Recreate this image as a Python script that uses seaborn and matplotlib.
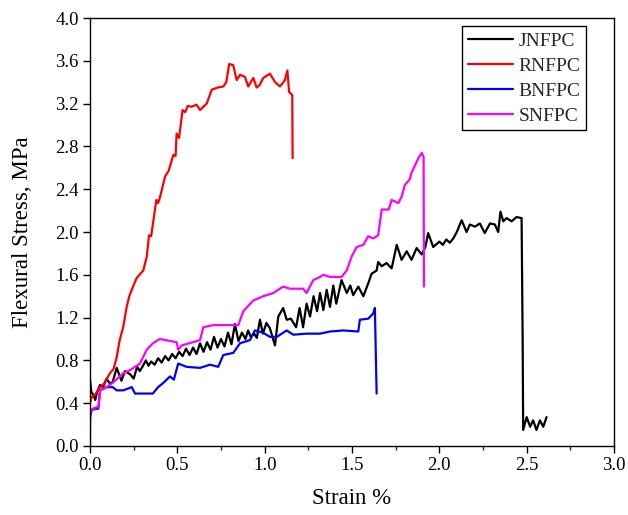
import numpy as np
import pandas as pd
import matplotlib
matplotlib.use("Agg")
import matplotlib.pyplot as plt
import seaborn as sns
from matplotlib.ticker import MultipleLocator

series_names = ["JNFPC", "RNFPC", "BNFPC", "SNFPC"]
series_colors = ["black", "red", "blue", "magenta"]

j_x = [0.0, 0.008, 0.015, 0.03, 0.04, 0.057, 0.075, 0.095, 0.115, 0.13, 0.153, 0.18, 0.2, 0.23,
       0.25, 0.27, 0.285, 0.30, 0.32, 0.335, 0.35, 0.37, 0.39, 0.41, 0.43, 0.45, 0.47, 0.49,
       0.51, 0.53, 0.55, 0.57, 0.59, 0.61, 0.63, 0.65, 0.67, 0.69, 0.71, 0.73, 0.75, 0.77,
       0.79, 0.81, 0.83, 0.85, 0.87, 0.89, 0.905, 0.92, 0.94, 0.955, 0.973, 0.99, 1.01, 1.03,
       1.059, 1.078, 1.106, 1.126, 1.15, 1.18, 1.2, 1.22, 1.24, 1.26, 1.28, 1.30, 1.317, 1.336,
       1.355, 1.374, 1.393, 1.41, 1.44, 1.47, 1.49, 1.507, 1.536, 1.565, 1.593, 1.612, 1.641,
       1.65, 1.67, 1.698, 1.727, 1.756, 1.784, 1.813, 1.841, 1.87, 1.899, 1.92, 1.936, 1.965,
       2.0, 2.02, 2.04, 2.06, 2.08, 2.1, 2.128, 2.156, 2.175, 2.204, 2.232, 2.26, 2.29, 2.318,
       2.337, 2.35, 2.366, 2.385, 2.414, 2.442, 2.471, 2.477, 2.48, 2.50, 2.52, 2.537, 2.556,
       2.576, 2.595, 2.614]
j_y = [0.62, 0.50, 0.49, 0.43, 0.50, 0.57, 0.55, 0.63, 0.58, 0.60, 0.73, 0.61, 0.70, 0.67,
       0.63, 0.74, 0.70, 0.74, 0.80, 0.75, 0.79, 0.76, 0.82, 0.78, 0.84, 0.80, 0.86, 0.82,
       0.88, 0.84, 0.91, 0.85, 0.92, 0.86, 0.96, 0.88, 0.97, 0.90, 1.02, 0.92, 1.00, 0.93,
       1.06, 0.95, 1.14, 0.98, 1.06, 1.00, 1.08, 1.02, 1.05, 1.01, 1.18, 1.05, 1.15, 1.10,
       0.94, 1.21, 1.29, 1.18, 1.19, 1.11, 1.29, 1.11, 1.33, 1.21, 1.40, 1.26, 1.43, 1.27,
       1.46, 1.30, 1.50, 1.33, 1.55, 1.43, 1.50, 1.41, 1.49, 1.40, 1.52, 1.61, 1.64,
       1.72, 1.68, 1.71, 1.66, 1.88, 1.74, 1.82, 1.74, 1.85, 1.79, 1.86, 1.99, 1.86,
       1.91, 1.88, 1.93, 1.90, 1.94, 2.00, 2.11, 2.00, 2.07, 2.05, 2.08, 1.99, 2.08, 2.07,
       2.00, 2.19, 2.10, 2.13, 2.10, 2.14, 2.13, 1.00, 0.15, 0.27, 0.18, 0.24, 0.15,
       0.24, 0.18, 0.27]

r_x = [0.0, 0.0, 0.01, 0.03, 0.057, 0.08, 0.114, 0.135, 0.153, 0.17, 0.19, 0.21, 0.225, 0.239,
       0.267, 0.305, 0.325, 0.338, 0.35, 0.38, 0.39, 0.40, 0.43, 0.45, 0.477, 0.49, 0.496, 0.51,
       0.53, 0.545, 0.56, 0.58, 0.61, 0.63, 0.668, 0.697, 0.73, 0.763, 0.78, 0.797, 0.82, 0.84,
       0.86, 0.887, 0.906, 0.935, 0.954, 0.97, 0.992, 1.03, 1.06, 1.088, 1.116, 1.13, 1.14,
       1.158, 1.16]
r_y = [0.0, 0.40, 0.46, 0.48, 0.55, 0.58, 0.68, 0.72, 0.83, 0.99, 1.11, 1.30, 1.40, 1.46,
       1.57, 1.64, 1.77, 1.97, 1.96, 2.30, 2.27, 2.32, 2.52, 2.57, 2.72, 2.71, 2.92, 2.88,
       3.14, 3.12, 3.18, 3.17, 3.19, 3.14, 3.20, 3.33, 3.35, 3.36, 3.40, 3.57, 3.56, 3.42,
       3.47, 3.45, 3.36, 3.44, 3.35, 3.37, 3.44, 3.48, 3.40, 3.36, 3.42, 3.51, 3.31,
       3.28, 2.69]

b_x = [0.0, 0.01, 0.048, 0.057, 0.095, 0.13, 0.153, 0.19, 0.239, 0.258, 0.305, 0.36, 0.39,
       0.42, 0.458, 0.48, 0.505, 0.553, 0.63, 0.687, 0.734, 0.763, 0.82, 0.859, 0.916, 0.944,
       0.99, 1.03, 1.07, 1.126, 1.164, 1.24, 1.317, 1.374, 1.45, 1.536, 1.545, 1.593, 1.622,
       1.631, 1.641]
b_y = [0.27, 0.34, 0.35, 0.52, 0.55, 0.55, 0.52, 0.52, 0.55, 0.49, 0.49, 0.49, 0.55,
       0.59, 0.65, 0.62, 0.77, 0.74, 0.73, 0.76, 0.74, 0.85, 0.87, 0.96, 0.99, 1.08,
       1.06, 1.02, 1.02, 1.08, 1.04, 1.05, 1.05, 1.07, 1.08, 1.07, 1.18, 1.19, 1.24,
       1.29, 0.49]

s_x = [0.0, 0.003, 0.05, 0.057, 0.095, 0.13, 0.19, 0.23, 0.286, 0.325, 0.36, 0.40, 0.496,
       0.505, 0.525, 0.63, 0.649, 0.706, 0.849, 0.878, 0.935, 0.992, 1.05, 1.106, 1.145, 1.22,
       1.24, 1.278, 1.317, 1.336, 1.374, 1.44, 1.47, 1.498, 1.527, 1.565, 1.593, 1.622, 1.65,
       1.67, 1.71, 1.727, 1.765, 1.784, 1.803, 1.83, 1.84, 1.88, 1.90, 1.91, 1.912]
s_y = [0.21, 0.34, 0.37, 0.52, 0.55, 0.59, 0.68, 0.71, 0.77, 0.90, 0.96, 1.00, 0.97,
       0.90, 0.94, 0.99, 1.11, 1.13, 1.13, 1.26, 1.36, 1.40, 1.43, 1.49, 1.47, 1.47,
       1.43, 1.55, 1.58, 1.60, 1.58, 1.58, 1.64, 1.77, 1.86, 1.88, 1.96, 1.94, 1.97,
       2.21, 2.21, 2.30, 2.27, 2.33, 2.44, 2.49, 2.55, 2.69, 2.74, 2.70, 1.49]

x_ticks = [0.0, 0.5, 1.0, 1.5, 2.0, 2.5, 3.0]
y_ticks = [0.0, 0.4, 0.8, 1.2, 1.6, 2.0, 2.4, 2.8, 3.2, 3.6, 4.0]

frames = []
for name, xs, ys in zip(series_names, [j_x, r_x, b_x, s_x], [j_y, r_y, b_y, s_y]):
    frames.append(pd.DataFrame({"strain": xs, "stress": ys, "series": name,
                                "order": range(len(xs))}))
df = pd.concat(frames, ignore_index=True)

sns.set_theme(style="ticks")
plt.rcParams["font.family"] = ["Liberation Serif", "DejaVu Serif"]
plt.rcParams["mathtext.fontset"] = "stix"

fig = plt.figure(figsize=(6.28, 5.15), dpi=100)
ax = fig.add_axes([0.1433, 0.134, 0.8344, 0.831])

for name, color in zip(series_names, series_colors):
    sub = df[df["series"] == name]
    sns.lineplot(data=sub, x="strain", y="stress", sort=False, estimator=None,
                 color=color, linewidth=1.6, label=name, ax=ax)

ax.set_xlim(0, 3.0)
ax.set_ylim(0, 4.0)
ax.set_xticks(x_ticks)
ax.set_xticklabels([f"{v:.1f}" for v in x_ticks])
ax.set_yticks(y_ticks)
ax.set_yticklabels([f"{v:.1f}" for v in y_ticks])
ax.xaxis.set_minor_locator(MultipleLocator(0.25))
ax.tick_params(axis="both", which="major", direction="out", length=5, width=1.0,
               labelsize=13.5, colors="black", pad=3)
ax.tick_params(axis="x", which="minor", direction="out", length=3, width=1.0)
ax.tick_params(top=False, right=False, which="both")
for sp in ax.spines.values():
    sp.set_visible(True)
    sp.set_color("black")
    sp.set_linewidth(1.0)

ax.set_xlabel("Strain %", fontsize=16.5, color="black", labelpad=10)
ax.set_ylabel("Flexural Stress, MPa", fontsize=16.5, color="black", labelpad=16)

leg = ax.legend(loc="upper right", bbox_to_anchor=(0.947, 0.981), fontsize=14,
                frameon=True, fancybox=False, edgecolor="black", framealpha=1,
                handlelength=2.3, handletextpad=0.3, borderpad=0.3, labelspacing=0.38,
                borderaxespad=0)
leg.get_frame().set_linewidth(1.0)

fig.savefig("out.png", dpi=100)
